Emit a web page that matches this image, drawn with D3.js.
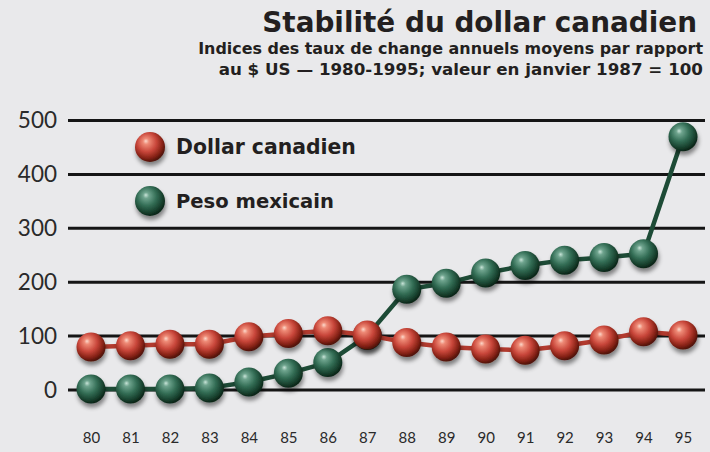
<!DOCTYPE html>
<html lang="fr">
<head>
<meta charset="utf-8">
<script src="https://cdn.jsdelivr.net/npm/d3@7"></script>
<style>
  html, body { margin: 0; padding: 0; background: #e9e9eb; }
  svg { display: block; }
</style>
</head>
<body>
<svg id="chart" width="710" height="452"></svg>
<script>
// Années (abscisses) et indices annuels moyens (janvier 1987 = 100)
const years = ["80","81","82","83","84","85","86","87","88","89","90","91","92","93","94","95"];
const dollarCanadien = [79, 81, 84, 84, 98, 104, 109, 101, 87, 79, 75, 73, 81, 92, 107, 101];
const pesoMexicain   = [1, 1, 1, 3, 14, 30, 50, 100, 186, 197, 216, 230, 240, 245, 252, 469];
const yTicks = [0, 100, 200, 300, 400, 500];

const titre = "Stabilité du dollar canadien";
const sousTitre = [
  "Indices des taux de change annuels moyens par rapport",
  "au $ US — 1980-1995; valeur en janvier 1987 = 100"
];
const series = [
  { name: "Peso mexicain", values: pesoMexicain, grad: "gradVert", line: "#1d4b36" },
  { name: "Dollar canadien", values: dollarCanadien, grad: "gradRouge", line: "#b23a2e" }
];

const svg = d3.select("#chart");
const W = 710, H = 452;
const heavy = "'DejaVu Sans', sans-serif";

svg.append("rect").attr("width", W).attr("height", H).attr("fill", "#e9e9eb");

// Ajuste la taille de police pour qu'un texte occupe la largeur voulue
function fitWidth(sel, width) {
  sel.each(function () {
    const fs = parseFloat(this.getAttribute("font-size"));
    const w = this.getComputedTextLength();
    if (w > 0) this.setAttribute("font-size", (fs * width / w).toFixed(2));
  });
}

const defs = svg.append("defs");
function ballGradient(id, stops) {
  const g = defs.append("radialGradient").attr("id", id)
    .attr("cx", "0.42").attr("cy", "0.38").attr("r", "0.62")
    .attr("fx", "0.36").attr("fy", "0.3");
  stops.forEach(([o, c]) => g.append("stop").attr("offset", o).attr("stop-color", c));
}
ballGradient("gradRouge", [["0%", "#fcd8ca"], ["16%", "#ee8a76"], ["52%", "#c8463a"], ["82%", "#862216"], ["100%", "#4e1208"]]);
ballGradient("gradVert", [["0%", "#c8e4d8"], ["16%", "#6fa48e"], ["52%", "#336d55"], ["82%", "#19422f"], ["100%", "#0a2417"]]);

const shadow = defs.append("filter").attr("id", "ombre")
  .attr("x", "-50%").attr("y", "-50%").attr("width", "200%").attr("height", "200%");
shadow.append("feDropShadow").attr("dx", 1).attr("dy", 4)
  .attr("stdDeviation", 2.2).attr("flood-color", "#000").attr("flood-opacity", 0.45);

// Échelles
const x = d3.scalePoint().domain(years).range([91, 683]);
const y = d3.scaleLinear().domain([0, 500]).range([389.5, 120]);

// Titre et sous-titre
svg.append("text").attr("x", 697).attr("y", 32).attr("text-anchor", "end")
  .attr("font-family", heavy).attr("font-weight", 700).attr("font-size", 24)
  .attr("fill", "#231f20").text(titre)
  .call(fitWidth, 435);
svg.selectAll("text.sous").data(sousTitre).join("text").attr("class", "sous")
  .attr("x", 703).attr("y", (d, i) => 54 + i * 20.5).attr("text-anchor", "end")
  .attr("font-family", heavy).attr("font-weight", 700).attr("font-size", 13)
  .attr("fill", "#231f20").text(d => d)
  .call(sel => sel.filter((d, i) => i === 0).call(fitWidth, 505))
  .call(sel => sel.filter((d, i) => i === 1).call(fitWidth, 485));

// Axe vertical : lignes de grille et étiquettes
const yAxis = d3.axisLeft(y).tickValues(yTicks).tickSize(-(705 - 68)).tickPadding(11);
const gy = svg.append("g").attr("transform", "translate(68,0)").call(yAxis);
gy.select(".domain").remove();
gy.selectAll(".tick line").attr("stroke", "#151515").attr("stroke-width", 3);
gy.selectAll(".tick text").attr("font-family", "Lato").attr("font-size", 22.5)
  .attr("fill", "#2a2a2a").attr("dy", "0.35em");

// Axe horizontal : années
const xAxis = d3.axisBottom(x).tickSize(0).tickPadding(0);
const gx = svg.append("g").attr("transform", "translate(0,432)").call(xAxis);
gx.select(".domain").remove();
gx.selectAll(".tick text").attr("font-family", "Lato").attr("font-size", 15)
  .attr("fill", "#2a2a2a").attr("dy", "0.71em");

// Séries : trait puis billes
const line = d3.line().x((d, i) => x(years[i])).y(d => y(d));
series.forEach(s => {
  const g = svg.append("g");
  g.append("path").datum(s.values).attr("d", line)
    .attr("fill", "none").attr("stroke", s.line).attr("stroke-width", 4.5)
    .attr("stroke-linejoin", "round");
  g.selectAll("circle").data(s.values).join("circle")
    .attr("cx", (d, i) => x(years[i])).attr("cy", d => y(d)).attr("r", 14.5)
    .attr("fill", `url(#${s.grad})`).attr("filter", "url(#ombre)");
});

// Légende
const legend = [
  { name: "Dollar canadien", grad: "gradRouge", cy: 147, w: 180 },
  { name: "Peso mexicain", grad: "gradVert", cy: 201, w: 158 }
];
const lg = svg.append("g");
lg.selectAll("circle").data(legend).join("circle")
  .attr("cx", 150).attr("cy", d => d.cy).attr("r", 15)
  .attr("fill", d => `url(#${d.grad})`).attr("filter", "url(#ombre)");
lg.selectAll("text").data(legend).join("text")
  .attr("x", 176).attr("y", d => d.cy + 7)
  .attr("font-family", heavy).attr("font-weight", 700).attr("font-size", 18)
  .attr("fill", "#231f20").text(d => d.name)
  .each(function (d) { d3.select(this).call(fitWidth, d.w); });
</script>
</body>
</html>
